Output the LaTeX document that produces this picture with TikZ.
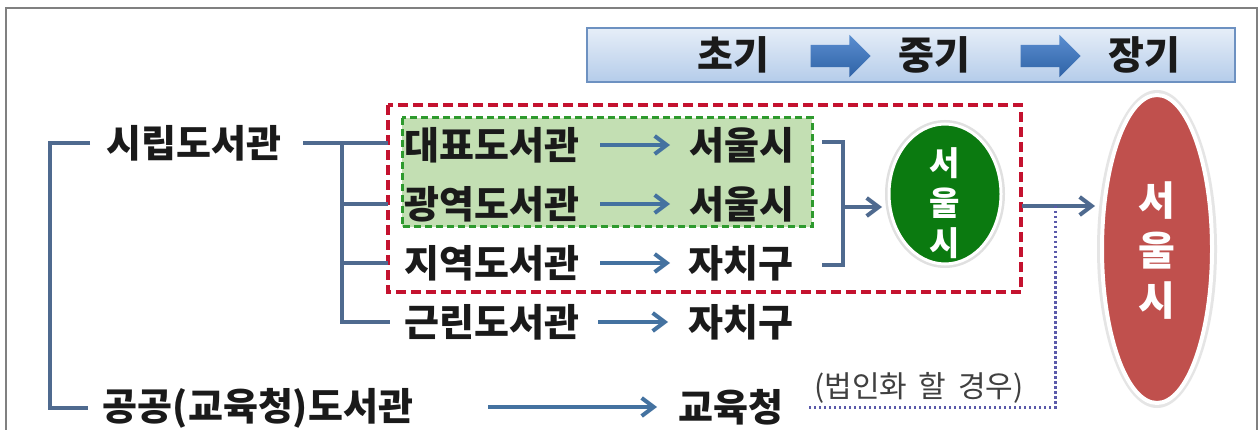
\documentclass[tikz,border=0pt]{standalone}
\usepackage{fontspec}
\setmainfont{Noto Sans CJK KR}
\usetikzlibrary{arrows.meta,shapes.geometric,shapes.arrows}
\definecolor{connc}{HTML}{4F6A8F}
\definecolor{arrc}{HTML}{4472A0}
\definecolor{redd}{HTML}{C4122F}
\definecolor{greend}{HTML}{2E9A2E}
\definecolor{greenf}{HTML}{C3DFB3}
\definecolor{frame}{HTML}{808080}
\definecolor{txt}{HTML}{1A1A1A}
\definecolor{ellg}{HTML}{0B7A10}
\definecolor{ellr}{HTML}{C0504D}
\definecolor{dotc}{HTML}{5A5AAA}
\definecolor{bal}{HTML}{5A8ED0}
\definecolor{bad}{HTML}{2F62A6}
\tikzset{
  lbl/.style={inner sep=0pt, text=txt, font=\bfseries\fontsize{38}{40}\selectfont},
  bantext/.style={inner sep=0pt, text=txt, font=\bfseries\fontsize{39}{40}\selectfont},
  notetext/.style={inner sep=0pt, text=black!75, font=\fontsize{30}{32}\selectfont},
  conn/.style={draw=connc, line width=4pt},
  rowarrow/.style={draw=arrc, line width=4pt, -{Straight Barb[length=12pt,width=18pt,line width=4pt]}},
  blockarrow/.style={shape=single arrow, minimum height=60pt, inner sep=11pt,
    single arrow head extend=10pt, top color=bal, bottom color=bad, draw=none},
}
\begin{document}
\begin{tikzpicture}[x=1pt,y=-1pt]
\useasboundingbox (0,0) rectangle (1260,430);
\fill[white] (0,0) rectangle (1260,430);
% frame
\draw[frame, line width=2pt] (6,430) -- (6,8) -- (1257,8) -- (1257,430);

% banner
\node[draw=bad!70, line width=1.5pt, top color=bal!15, bottom color=bal!45,
      minimum width=648pt, minimum height=54pt, inner sep=0pt] (ban) at (911,55) {};
\node[bantext] (t1) at (733,55) {초기};
\node[bantext] (t2) at (934,55) {중기};
\node[bantext] (t3) at (1144,55) {장기};
\node[blockarrow] (ba1) at (835,56) {};
\node[blockarrow] (ba2) at (1045,56) {};

% boxes
\draw[redd, line width=4pt, dash pattern=on 10pt off 5pt] (388,105) rectangle (1021,292);
\draw[greend, fill=greenf, line width=3pt, dash pattern=on 7pt off 4pt] (402,118) rectangle (812,227);

% labels
\node[lbl] (si) at (194,143) {시립도서관};
\node[lbl] (gong) at (258,408) {공공(교육청)도서관};
\node[lbl] (dae) at (492,145) {대표도서관};
\node[lbl] (gwang) at (492,204) {광역도서관};
\node[lbl] (ji) at (492,263) {지역도서관};
\node[lbl] (geun) at (492,322) {근린도서관};
\node[lbl] (s1) at (742,145) {서울시};
\node[lbl] (s2) at (742,204) {서울시};
\node[lbl] (j1) at (741,263) {자치구};
\node[lbl] (j2) at (741,322) {자치구};
\node[lbl] (edu) at (731,407) {교육청};
\node[notetext] (note) at (919,388) {(법인화\, 할\, 경우)};

% ellipses
\node[ellipse, fill=black!12, minimum width=120pt, minimum height=148pt] (g0) at (945,194) {};
\node[ellipse, fill=ellg, draw=white, line width=3pt, minimum width=112pt, minimum height=140pt] (gell) at (945,194) {};
\node[inner sep=0pt, text=white, align=center, font=\bfseries\fontsize{33}{40}\selectfont] (gtxt) at (945,203) {서\\울\\시};
\node[ellipse, fill=black!10, minimum width=120pt, minimum height=318pt] (r0) at (1157,249) {};
\node[ellipse, fill=ellr, draw=white, line width=4pt, minimum width=110pt, minimum height=308pt] (rell) at (1157,249) {};
\node[inner sep=0pt, text=white, align=center, font=\bfseries\fontsize{40}{50}\selectfont] (rtxt) at (1157,251) {서\\울\\시};

% left bracket
\coordinate (lbt) at (50,143);
\coordinate (lbb) at (50,408);
\draw[conn] (90,143) -- (lbt) -- (lbb) -- (88,408);

% tree from 시립도서관
\coordinate (jt) at (342,143);
\coordinate (jb) at (342,322);
\draw[conn] (303,143) -- (388,143);
\draw[conn] (jt) -- (jb) -- (390,322);
\draw[conn] (342,204) -- (388,204);
\draw[conn] (342,263) -- (388,263);

% row arrows
\draw[rowarrow] (600,145) -- (670,145);
\draw[rowarrow] (600,204) -- (670,204);
\draw[rowarrow] (600,263) -- (670,263);
\draw[rowarrow] (598,322) -- (668,322);
\draw[rowarrow] (488,407) -- (657,407);

% right bracket
\coordinate (gin) at (882,207);
\coordinate (rin) at (1095,206);
\draw[conn] (822,142) -- (843,142) -- (843,265) -- (822,265);
\draw[rowarrow, draw=connc] (845,207) -- (gin);
\draw[rowarrow, draw=connc] (1022,206) -- (rin);

% dotted
\draw[dotc, line width=3pt, dash pattern=on 2.5pt off 2.5pt] (1055,206) -- (1055,407) -- (808,407);
\end{tikzpicture}
\end{document}
